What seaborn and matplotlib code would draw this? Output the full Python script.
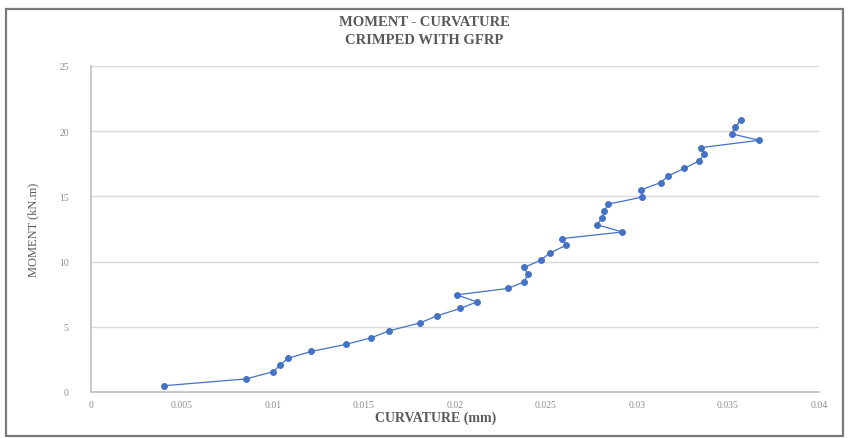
import matplotlib
matplotlib.use("Agg")
import matplotlib.pyplot as plt
from matplotlib.patches import Rectangle
import numpy as np
import pandas as pd
import seaborn as sns

# Moment-curvature test readings (curvature, moment)
curvature = [0.0040, 0.0085, 0.0100, 0.0104, 0.0108, 0.0121, 0.0140, 0.0154,
             0.0164, 0.0181, 0.0190, 0.0203, 0.0212, 0.0201, 0.0229, 0.0238,
             0.0240, 0.0238, 0.0247, 0.0252, 0.0261, 0.0259, 0.0292, 0.0278,
             0.0281, 0.0282, 0.0284, 0.0303, 0.0302, 0.0313, 0.0317, 0.0326,
             0.0334, 0.0337, 0.0335, 0.0367, 0.0352, 0.0354, 0.0357]
moment = [0.48, 1.00, 1.55, 2.07, 2.58, 3.11, 3.65, 4.16, 4.70, 5.31, 5.84,
          6.41, 6.91, 7.45, 7.94, 8.45, 9.03, 9.55, 10.10, 10.64, 11.26, 11.77,
          12.27, 12.83, 13.37, 13.88, 14.40, 14.95, 15.49, 16.06, 16.56, 17.15,
          17.71, 18.22, 18.74, 19.30, 19.80, 20.31, 20.85]

x_ticks = [0, 0.005, 0.01, 0.015, 0.02, 0.025, 0.03, 0.035, 0.04]
x_tick_labels = ["0", "0.005", "0.01", "0.015", "0.02", "0.025", "0.03", "0.035", "0.04"]
y_ticks = [0, 5, 10, 15, 20, 25]

df = pd.DataFrame({"curvature": curvature, "moment": moment})

sns.set_style("white")
plt.rcParams["font.family"] = ["Liberation Serif", "DejaVu Serif"]

W, H = 848, 439
fig = plt.figure(figsize=(W / 100, H / 100), dpi=100)
fig.patch.set_facecolor("white")

# chart frame
fig.patches.append(Rectangle((6 / W, 2 / H), 837 / W, (H - 12) / H,
                             transform=fig.transFigure, fill=False,
                             edgecolor="#7a7a7a", linewidth=1.6))

ax = fig.add_axes([91 / W, 46 / H, 728 / W, 326 / H])
blue = "#4472C4"
sns.lineplot(data=df, x="curvature", y="moment", sort=False, ax=ax,
             color=blue, linewidth=0.9, marker="o", markersize=4.2,
             markeredgecolor=blue, markerfacecolor=blue, estimator=None)

ax.set_xlim(0, 0.04)
ax.set_ylim(0, 25)
ax.set_xticks(x_ticks)
ax.set_xticklabels(x_tick_labels)
ax.set_yticks(y_ticks)
ax.yaxis.grid(True, color="#d9d9d9", linewidth=1)
ax.xaxis.grid(False)
ax.tick_params(axis="both", length=0, labelsize=7, labelcolor="#8c8c8c")
ax.tick_params(axis="y", pad=16)
ax.tick_params(axis="x", pad=6)

for side in ["top", "right"]:
    ax.spines[side].set_visible(False)
for side in ["left", "bottom"]:
    ax.spines[side].set_color("#bfbfbf")
    ax.spines[side].set_linewidth(1.2)

ax.set_xlabel("")
ax.set_ylabel("MOMENT (kN.m)", fontsize=9, color="#595959", labelpad=14)
fig.text(436 / W, 1 - 418 / H, "CURVATURE (mm)", ha="center", va="center",
         fontsize=10, fontweight="bold", color="#595959")

fig.text(0.5, 1 - 22 / H, "MOMENT - CURVATURE", ha="center", va="center",
         fontsize=10.5, fontweight="bold", color="#595959")
fig.text(0.5, 1 - 40 / H, "CRIMPED WITH GFRP", ha="center", va="center",
         fontsize=10.5, fontweight="bold", color="#595959")

fig.savefig("out.png", dpi=100, facecolor="white")
